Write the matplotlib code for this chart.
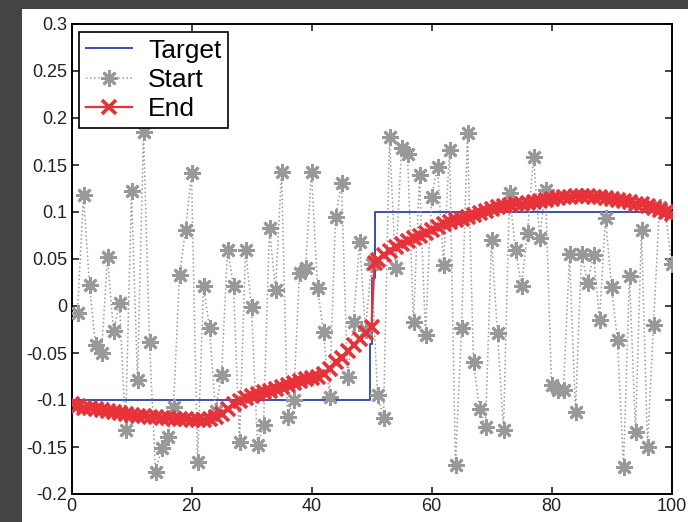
import numpy as np
import matplotlib
matplotlib.use("Agg")
from matplotlib import pyplot as plt
from matplotlib.patches import Rectangle

plt.rcParams['font.family'] = ['Liberation Sans', 'DejaVu Sans']

# target profile: -0.1 on the left half, 0.1 on the right half
target_x = [0, 49.7, 49.7, 50.1, 50.1, 50.6, 50.6, 100]
target_y = [-0.1, -0.1, -0.04, -0.04, 0.03, 0.03, 0.1, 0.1]

# starting guess, one value per sample 1..100
start_y = [
    -0.007, 0.118, 0.022, -0.041, -0.050, 0.052, -0.027, 0.003, -0.132, 0.122,
    -0.079, 0.185, -0.038, -0.177, -0.151, -0.139, -0.107, 0.033, 0.081, 0.141,
    -0.166, 0.021, -0.023, -0.112, -0.073, 0.060, 0.021, -0.145, 0.060, -0.001,
    -0.148, -0.127, 0.083, 0.017, 0.143, -0.118, -0.100, 0.035, 0.040, 0.143,
    0.019, -0.028, -0.097, 0.095, 0.131, -0.076, -0.017, 0.068, -0.025, 0.045,
    -0.095, -0.119, 0.180, 0.040, 0.168, 0.162, -0.017, 0.139, -0.031, 0.116,
    0.148, 0.044, 0.166, -0.169, -0.023, 0.184, -0.060, -0.110, -0.129, 0.070,
    -0.029, -0.132, 0.120, 0.060, 0.021, 0.078, 0.159, 0.072, 0.123, -0.084,
    -0.089, -0.089, 0.055, -0.113, 0.055, 0.025, 0.054, -0.015, 0.094, 0.020,
    -0.036, -0.171, 0.032, -0.134, 0.081, -0.150, -0.020, 0.105, 0.100, 0.045,
]
start_x = list(range(1, 101))

# final result after optimisation
end_x = list(range(0, 51)) + [50.5] + list(range(51, 101))
end_y = [
    -0.104, -0.106, -0.108, -0.109, -0.110, -0.111, -0.112, -0.113, -0.114, -0.115,
    -0.116, -0.117, -0.117, -0.118, -0.118, -0.119, -0.119, -0.120, -0.120, -0.120,
    -0.121, -0.121, -0.121, -0.120, -0.118, -0.115, -0.110, -0.104, -0.101, -0.098,
    -0.096, -0.094, -0.092, -0.090, -0.088, -0.086, -0.084, -0.082, -0.080, -0.078,
    -0.077, -0.075, -0.072, -0.067, -0.060, -0.055, -0.048, -0.042, -0.035, -0.029,
    -0.022, 0.046,
    0.049, 0.054, 0.059, 0.063, 0.066, 0.069, 0.072, 0.075, 0.078, 0.081,
    0.084, 0.087, 0.089, 0.091, 0.093, 0.095, 0.097, 0.099, 0.101, 0.103,
    0.105, 0.106, 0.107, 0.108, 0.109, 0.110, 0.111, 0.112, 0.113, 0.114,
    0.115, 0.116, 0.116, 0.117, 0.117, 0.117, 0.116, 0.116, 0.115, 0.114,
    0.113, 0.112, 0.111, 0.109, 0.108, 0.106, 0.104, 0.102, 0.100, 0.098,
]

yticks = [0.3, 0.25, 0.2, 0.15, 0.1, 0.05, 0, -0.05, -0.1, -0.15, -0.2]
ytick_labels = ['0.3', '0.25', '0.2', '0.15', '0.1', '0.05', '0',
                '-0.05', '-0.1', '-0.15', '-0.2']
xticks = [0, 20, 40, 60, 80, 100]

fig = plt.figure(figsize=(6.88, 5.22), dpi=100, facecolor='#444444')
# white sheet behind the axes
fig.patches.append(Rectangle((22 / 688, 0), 1, (522 - 9) / 522,
                             transform=fig.transFigure, facecolor='white',
                             edgecolor='none', zorder=-10))

ax = fig.add_axes([71.5 / 688, 28 / 522, 600 / 688, 470 / 522])
ax.set_zorder(1)
ax.plot(target_x, target_y, color='#3a4fb0', lw=1.4, label='Target', zorder=2)
ax.plot(start_x, start_y, color='#999999', ls=':', lw=1.1,
        marker=(8, 2, 0), ms=12, mew=2.0, label='Start', zorder=3)
ax.plot(end_x, end_y, color='#e8323a', lw=1.6, marker='x', ms=10, mew=2.6,
        label='End', zorder=4)

ax.set_xlim(0, 100)
ax.set_ylim(-0.2, 0.3)
ax.set_xticks(xticks)
ax.set_yticks(yticks)
ax.set_yticklabels(ytick_labels)
ax.tick_params(direction='in', top=True, right=True, length=5, width=1.2,
               labelsize=13, colors='#222222', pad=3)
for s in ax.spines.values():
    s.set_linewidth(1.4)

leg = ax.legend(loc='upper left', fontsize=19, frameon=True, fancybox=False,
                framealpha=1, edgecolor='black', borderpad=0.25,
                handlelength=1.75, handletextpad=0.6, labelspacing=0.2,
                borderaxespad=0.3)
leg.get_frame().set_linewidth(1.2)

fig.savefig('out.png', dpi=100, facecolor=fig.get_facecolor())
